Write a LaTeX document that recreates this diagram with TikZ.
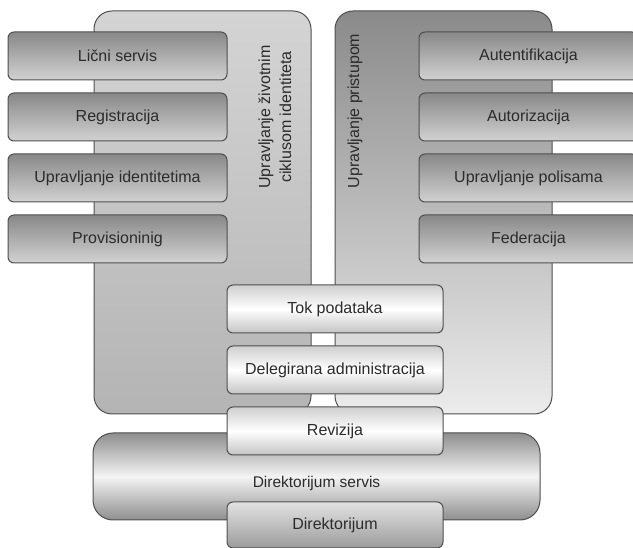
\documentclass[tikz,border=0pt]{standalone}
\usepackage{fontspec}
\setmainfont{Liberation Sans}
\usepackage{tikz}
\usetikzlibrary{positioning}
\definecolor{boxStroke}{HTML}{4F4F4F}
\definecolor{boxTxt}{HTML}{2B2B2B}
\definecolor{lcTop}{HTML}{D4D4D4}
\definecolor{lcBottom}{HTML}{B4B4B4}
\definecolor{accTop}{HTML}{8A8A8A}
\definecolor{accBottom}{HTML}{ECECEC}
\definecolor{darkTop}{HTML}{888888}
\definecolor{darkBottom}{HTML}{D2D2D2}
\definecolor{lightTop}{HTML}{CFCFCF}
\definecolor{lightBottom}{HTML}{C4C4C4}
\definecolor{dirTop}{HTML}{E2E2E2}
\definecolor{dirBottom}{HTML}{9C9C9C}
\definecolor{servisEdge}{HTML}{8E8E8E}
\definecolor{servisMid}{HTML}{F4F4F4}
\tikzset{
  panel/.style={
    rectangle, rounded corners=18pt,
    minimum width=217pt, minimum height=403pt,
    draw=boxStroke, line width=1pt
  },
  base/.style={
    rectangle, rounded corners=6pt,
    minimum width=219pt, minimum height=48pt,
    inner sep=0pt,
    draw=boxStroke, line width=1pt,
    text=boxTxt, font=\fontsize{16}{19}\selectfont
  },
  darkbox/.style={base, top color=darkTop, bottom color=darkBottom},
  lightbox/.style={base, minimum width=216pt, top color=lightTop, bottom color=lightBottom, middle color=white},
  dirbox/.style={base, minimum width=216pt, minimum height=46pt, top color=dirTop, bottom color=dirBottom},
  panellabel/.style={rotate=90, align=center, text=boxTxt, font=\fontsize{16}{21}\selectfont},
}

\begin{document}
\begin{tikzpicture}[x=1pt, y=-1pt]
    \useasboundingbox (0,0) rectangle (633,548);
    \node[panel, top color=lcTop, bottom color=lcBottom] (lifecycle) at (202.5,212.5) {};
    \node[panel, top color=accTop, bottom color=accBottom] (access) at (443.5,212.5) {};
    \node[panellabel] (lifecycleLabel) at (275,117) {Upravljanje životnim\\ciklusom identiteta};
    \node[panellabel] (accessLabel) at (355,111) {Upravljanje pristupom};

    \node[darkbox] (licni) at (117.5,56) {Lični servis};
    \node[darkbox, below=12pt of licni] (registracija) {Registracija};
    \node[darkbox, below=12pt of registracija] (identiteti) {Upravljanje identitetima};
    \node[darkbox, below=12pt of identiteti] (provisioning) {Provisioninig};

    \node[darkbox] (autentifikacija) at (528.5,56) {Autentifikacija};
    \node[darkbox, below=12pt of autentifikacija] (autorizacija) {Autorizacija};
    \node[darkbox, below=12pt of autorizacija] (polise) {Upravljanje polisama};
    \node[darkbox, below=12pt of polise] (federacija) {Federacija};

    \node[base, rounded corners=20pt, minimum width=447pt, minimum height=87pt,
      top color=servisEdge, bottom color=servisEdge, middle color=servisMid] (servis) at (316.5,476.5) {};
    \node[text=boxTxt, font=\fontsize{15.5}{18}\selectfont] (servisLabel) at ([yshift=-7pt]servis.center) {Direktorijum servis};

    \node[lightbox] (tok) at (335,309) {Tok podataka};
    \node[lightbox, below=12pt of tok] (delegirana) {Delegirana administracija};
    \node[lightbox, below=12pt of delegirana] (revizija) {Revizija};
    \node[dirbox] (direktorijum) at (335,525) {Direktorijum};
  \end{tikzpicture}
\end{document}
